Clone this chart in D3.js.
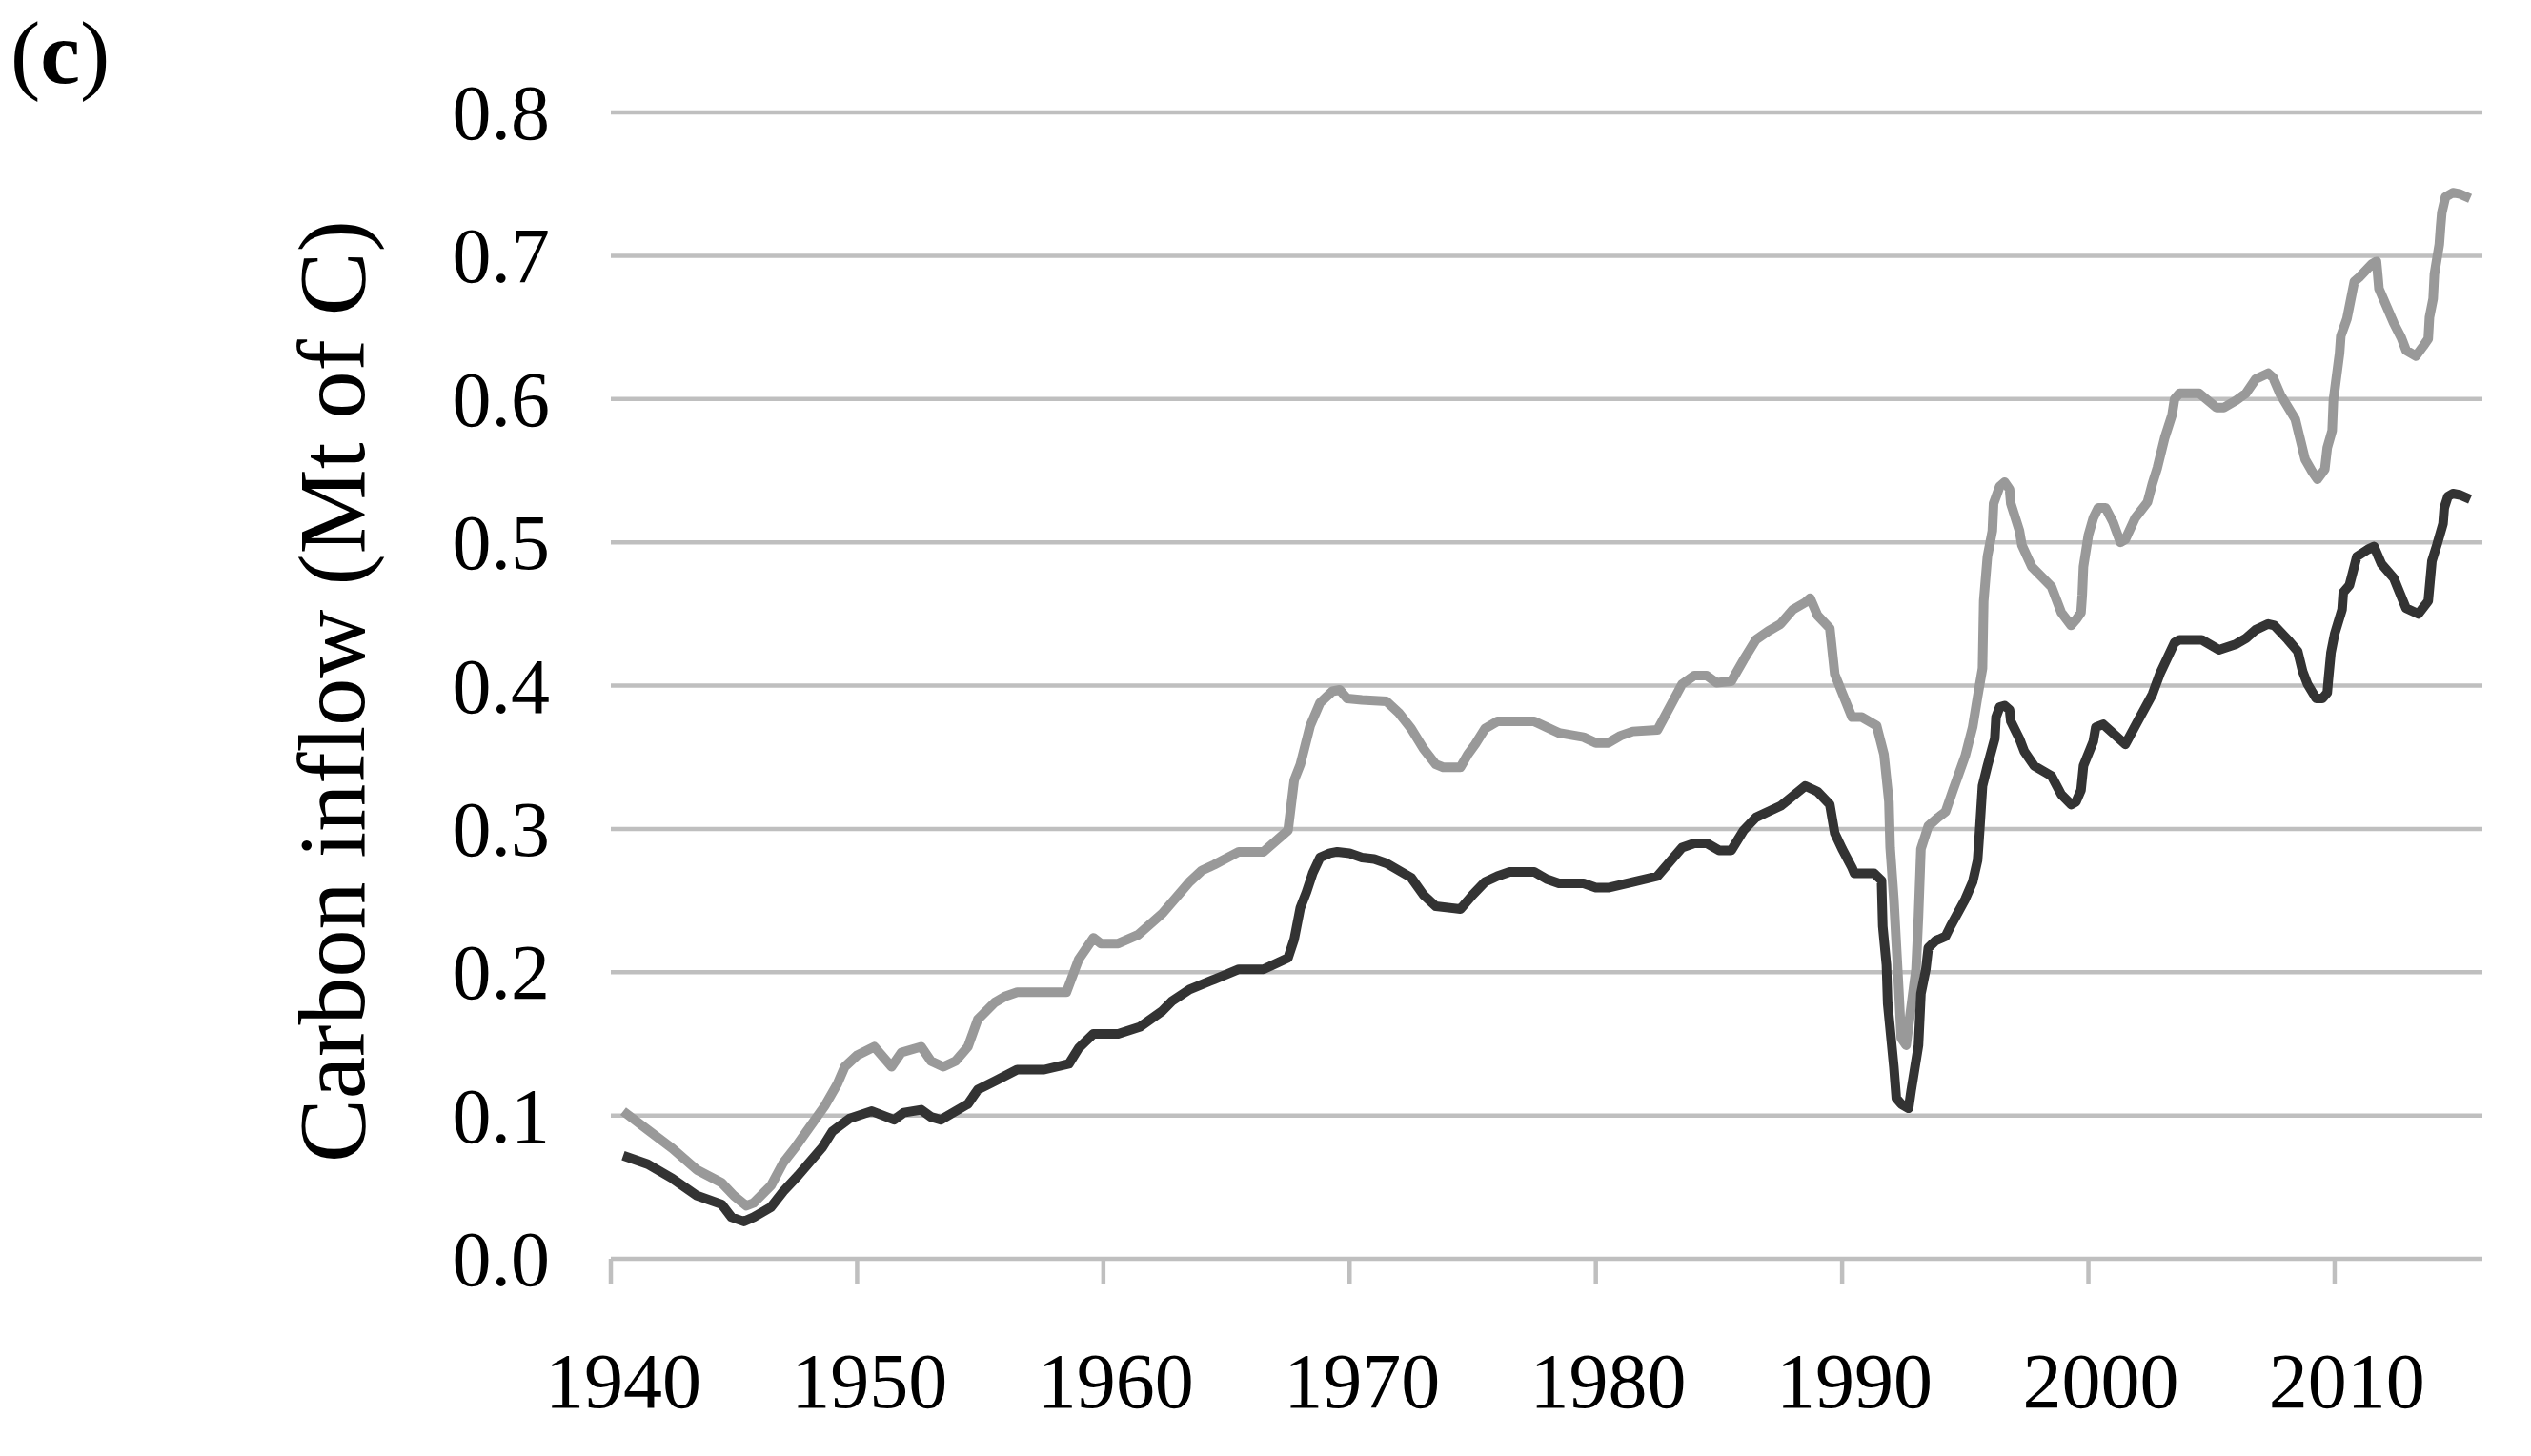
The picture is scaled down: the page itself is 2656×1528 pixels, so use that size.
<!DOCTYPE html>
<html lang="en">
<head>
  <meta charset="UTF-8">
  <title>Carbon inflow</title>
  <style>
    body { margin: 0; background: #fff; }
    .tick-label { font-family: "Liberation Serif", "Times New Roman", serif; font-size: 82px; fill: #000; }
    .axis-title { font-family: "Liberation Serif", "Times New Roman", serif; font-size: 100px; fill: #000; }
    .panel-label { font-family: "Liberation Serif", "Times New Roman", serif; font-size: 94px; fill: #000; }
  </style>
</head>
<body>
  <div id="chart-container"></div>

  <script src="https://d3js.org/d3.v7.min.js"></script>
  <script>
    // x = year of the point (drawn in the middle of its year slot), values in Mt of C
    const darkYears = [1940, 1941, 1942, 1943, 1944, 1944.4, 1944.9, 1945.3, 1946, 1946.5, 1947.1, 1948.1, 1948.5, 1949.2,
      1950.1, 1951, 1951.4, 1952.1, 1952.5, 1952.9, 1954, 1954.4, 1955.1, 1956, 1957.1, 1958.1, 1958.5, 1959.1,
      1960.1, 1961, 1961.9, 1962.3, 1963, 1964, 1965, 1966, 1967, 1967.25, 1967.5, 1967.75, 1968, 1968.3, 1968.7,
      1969, 1969.5, 1970, 1970.5, 1971, 1971.5, 1972, 1972.5, 1973, 1974, 1974.5, 1975, 1975.5, 1976, 1977, 1977.5,
      1978, 1979, 1979.5, 1980, 1981, 1982, 1982.5, 1983, 1983.5, 1984, 1984.5, 1985, 1985.5, 1986, 1986.5, 1987,
      1987.5, 1988, 1988.5, 1989, 1989.2, 1989.5, 1989.9, 1990, 1990.8, 1991.1, 1991.15, 1991.3, 1991.35, 1991.6,
      1991.7, 1991.9, 1992.2, 1992.3, 1992.6, 1992.7, 1992.9, 1993, 1993.3, 1993.7, 1993.9, 1994.5, 1994.8, 1995,
      1995.05, 1995.1, 1995.2, 1995.4, 1995.7, 1995.75, 1995.9, 1996.1, 1996.3, 1996.35, 1996.7, 1996.9, 1997.3,
      1998, 1998.4, 1998.8, 1999, 1999.2, 1999.3, 1999.7, 1999.8, 2000.1, 2001, 2001.5, 2002.1, 2002.4, 2003,
      2003.2, 2004.1, 2004.8, 2005.5, 2005.9, 2006.3, 2006.8, 2007.05, 2007.6, 2008, 2008.2, 2008.4, 2008.75, 2009,
      2009.2, 2009.25, 2009.35, 2009.5, 2009.8, 2009.85, 2010.1, 2010.4, 2010.85, 2011.1, 2011.4, 2011.9, 2012.4,
      2012.9, 2013.3, 2013.45, 2013.65, 2013.9, 2013.95, 2014.1, 2014.3, 2014.6, 2015];
    const darkValues = [0.072, 0.066, 0.056, 0.044, 0.038, 0.029, 0.026, 0.029, 0.036, 0.047, 0.058, 0.078, 0.089, 0.098,
      0.103, 0.097, 0.102, 0.104, 0.099, 0.097, 0.108, 0.118, 0.124, 0.132, 0.132, 0.136, 0.147, 0.157,
      0.157, 0.162, 0.173, 0.180, 0.188, 0.195, 0.202, 0.202, 0.210, 0.223, 0.245, 0.256, 0.269, 0.280, 0.283,
      0.284, 0.283, 0.280, 0.279, 0.276, 0.271, 0.266, 0.254, 0.246, 0.244, 0.254, 0.263, 0.267, 0.270, 0.270, 0.265,
      0.262, 0.262, 0.259, 0.259, 0.263, 0.267, 0.277, 0.287, 0.290, 0.290, 0.285, 0.285, 0.299, 0.308, 0.312, 0.316,
      0.323, 0.330, 0.326, 0.317, 0.297, 0.286, 0.273, 0.269, 0.269, 0.264, 0.232, 0.205, 0.178, 0.134,
      0.112, 0.108, 0.105, 0.117, 0.149, 0.185, 0.202, 0.217, 0.222, 0.225, 0.232, 0.251, 0.263, 0.278,
      0.290, 0.303, 0.330, 0.344, 0.363, 0.378, 0.385, 0.386, 0.383, 0.375, 0.363, 0.354, 0.344,
      0.337, 0.324, 0.317, 0.319, 0.327, 0.344, 0.361, 0.371, 0.373, 0.359, 0.375, 0.394, 0.408, 0.430,
      0.432, 0.432, 0.425, 0.429, 0.433, 0.439, 0.443, 0.442, 0.432, 0.424, 0.410, 0.401, 0.391, 0.391,
      0.395, 0.405, 0.423, 0.436, 0.453, 0.465, 0.470, 0.490, 0.495, 0.497, 0.485, 0.475, 0.454,
      0.450, 0.459, 0.487, 0.498, 0.513, 0.524, 0.532, 0.534, 0.533, 0.530];

    const greyYears = [1940, 1941, 1942, 1943, 1944, 1944.5, 1945, 1945.3, 1946, 1946.5, 1947, 1948.2, 1948.7, 1949,
      1949.5, 1950.2, 1950.9, 1951.3, 1952.1, 1952.5, 1953, 1953.5, 1954, 1954.4, 1955.1, 1955.5, 1956, 1958, 1958.5,
      1959.1, 1959.4, 1960.1, 1960.9, 1961.9, 1962.5, 1963, 1963.5, 1964, 1965, 1966, 1967, 1967.25, 1967.5, 1967.9,
      1968.3, 1968.8, 1969.1, 1969.4, 1970, 1971, 1971.5, 1972, 1972.5, 1973, 1973.3, 1974, 1974.3, 1974.6, 1975,
      1975.5, 1976, 1977, 1977.5, 1978, 1979, 1979.5, 1980, 1980.5, 1981, 1982, 1982.5, 1983, 1983.5, 1984, 1984.4,
      1985, 1985.5, 1986, 1986.5, 1987, 1987.5, 1988, 1988.2, 1988.5, 1989, 1989.2, 1989.5, 1989.9, 1990.3, 1990.9,
      1991.2, 1991.4, 1991.45, 1991.6, 1991.8, 1991.9, 1992.1, 1992.5, 1992.6, 1992.7, 1993, 1993.4, 1993.7, 1994,
      1994.5, 1994.8, 1995, 1995.2, 1995.25, 1995.4, 1995.6, 1995.65, 1995.9, 1996.1, 1996.3, 1996.35, 1996.7,
      1996.8, 1997.2, 1998, 1998.4, 1998.8, 1999, 1999.2, 1999.25, 1999.3, 1999.5, 1999.7, 1999.9, 2000.2, 2000.5,
      2000.8, 2001, 2001.4, 2001.9, 2002.1, 2002.3, 2002.6, 2002.9, 2003, 2003.2, 2004, 2004.7, 2005, 2005.5, 2005.9,
      2006.3, 2006.8, 2007, 2007.3, 2007.9, 2008.3, 2008.6, 2008.8, 2009.1, 2009.2, 2009.4, 2009.45, 2009.7, 2009.75,
      2010, 2010.3, 2010.5, 2011, 2011.2, 2011.25, 2011.3, 2011.9, 2012.2, 2012.4, 2012.8, 2013.1, 2013.3, 2013.35,
      2013.5, 2013.55, 2013.75, 2013.8, 2013.85, 2014, 2014.3, 2014.6, 2015];
    const greyValues = [0.103, 0.090, 0.077, 0.062, 0.053, 0.044, 0.037, 0.039, 0.051, 0.067, 0.078, 0.107, 0.122, 0.134,
      0.142, 0.148, 0.134, 0.144, 0.148, 0.138, 0.134, 0.138, 0.148, 0.167, 0.179, 0.183, 0.186, 0.186, 0.209,
      0.224, 0.220, 0.220, 0.226, 0.241, 0.253, 0.263, 0.271, 0.275, 0.284, 0.284, 0.299, 0.334, 0.345, 0.372,
      0.388, 0.396, 0.397, 0.391, 0.390, 0.389, 0.381, 0.370, 0.356, 0.345, 0.343, 0.343, 0.352, 0.359, 0.370,
      0.375, 0.375, 0.375, 0.371, 0.367, 0.364, 0.360, 0.360, 0.365, 0.368, 0.369, 0.385, 0.401, 0.407, 0.407, 0.402,
      0.403, 0.418, 0.432, 0.438, 0.443, 0.453, 0.458, 0.461, 0.449, 0.440, 0.408, 0.395, 0.378, 0.378, 0.372,
      0.352, 0.319, 0.287, 0.251, 0.188, 0.154, 0.149, 0.202, 0.239, 0.286, 0.302, 0.308, 0.312, 0.327,
      0.351, 0.371, 0.392, 0.412, 0.459, 0.490, 0.508, 0.527, 0.539, 0.542, 0.537, 0.527, 0.508,
      0.498, 0.483, 0.469, 0.451, 0.442, 0.446, 0.451, 0.463, 0.483, 0.505, 0.517, 0.524, 0.524, 0.514,
      0.500, 0.502, 0.517, 0.528, 0.541, 0.552, 0.573, 0.589, 0.600, 0.604, 0.604, 0.594, 0.594, 0.599, 0.604,
      0.614, 0.618, 0.615, 0.603, 0.586, 0.558, 0.549, 0.544, 0.551, 0.566, 0.578, 0.599, 0.632, 0.644,
      0.656, 0.682, 0.685, 0.694, 0.696, 0.687, 0.677, 0.653, 0.643, 0.634, 0.630, 0.637, 0.642, 0.657,
      0.670, 0.687, 0.708, 0.720, 0.730, 0.741, 0.744, 0.743, 0.740];

    const yTicks = [0, 0.1, 0.2, 0.3, 0.4, 0.5, 0.6, 0.7, 0.8];
    const xTicks = [1940, 1950, 1960, 1970, 1980, 1990, 2000, 2010];
    const yearRange = [1940, 2016];

    const width = 2656;
    const height = 1528;
    const margin = { top: 118, right: 51, bottom: 207, left: 641 };

    const svg = d3.select('#chart-container')
      .append('svg')
      .attr('width', width)
      .attr('height', height)
      .style('display', 'block');

    svg.append('rect').attr('width', width).attr('height', height).attr('fill', '#fff');

    const xScale = d3.scaleLinear()
      .domain(yearRange)
      .range([margin.left, width - margin.right]);

    const yScale = d3.scaleLinear()
      .domain([0, 0.8])
      .range([height - margin.bottom, margin.top]);

    // horizontal gridlines (the 0.0 one doubles as the x axis line)
    svg.append('g')
      .selectAll('line')
      .data(yTicks)
      .enter()
      .append('line')
      .attr('x1', xScale(yearRange[0]))
      .attr('x2', xScale(yearRange[1]))
      .attr('y1', d => yScale(d))
      .attr('y2', d => yScale(d))
      .attr('stroke', '#bfbfbf')
      .attr('stroke-width', 4.5);

    // tick marks under the x axis
    svg.append('g')
      .selectAll('line')
      .data(xTicks)
      .enter()
      .append('line')
      .attr('x1', d => xScale(d))
      .attr('x2', d => xScale(d))
      .attr('y1', yScale(0))
      .attr('y2', yScale(0) + 27)
      .attr('stroke', '#bfbfbf')
      .attr('stroke-width', 4.5);

    svg.append('g')
      .selectAll('text')
      .data(yTicks)
      .enter()
      .append('text')
      .attr('class', 'tick-label')
      .attr('x', 577)
      .attr('y', d => yScale(d) + 28)
      .attr('text-anchor', 'end')
      .text(d => d3.format('.1f')(d));

    svg.append('g')
      .selectAll('text')
      .data(xTicks)
      .enter()
      .append('text')
      .attr('class', 'tick-label')
      .attr('x', d => xScale(d + 0.5))
      .attr('y', 1477)
      .attr('text-anchor', 'middle')
      .text(d => d);

    const line = d3.line()
      .x(d => xScale(d[0] + 0.5))
      .y(d => yScale(d[1]));

    const series = [
      { name: 'grey', color: '#999999', pts: d3.zip(greyYears, greyValues) },
      { name: 'dark', color: '#333333', pts: d3.zip(darkYears, darkValues) }
    ];

    svg.append('g')
      .selectAll('path')
      .data(series)
      .enter()
      .append('path')
      .attr('d', d => line(d.pts))
      .attr('fill', 'none')
      .attr('stroke', d => d.color)
      .attr('stroke-width', 10)
      .attr('stroke-linejoin', 'round');

    // y axis title, its top end is cut off like in the original figure
    svg.append('clipPath')
      .attr('id', 'title-clip')
      .append('rect')
      .attr('x', 0)
      .attr('y', 230)
      .attr('width', 600)
      .attr('height', height - 230);

    svg.append('g')
      .attr('clip-path', 'url(#title-clip)')
      .append('text')
      .attr('class', 'axis-title')
      .attr('transform', 'rotate(-90)')
      .attr('x', -1220)
      .attr('y', 382)
      .attr('text-anchor', 'start')
      .text('Carbon inflow (Mt of C)');

    // panel letter: plain parentheses, bold c
    const panel = svg.append('text')
      .attr('class', 'panel-label')
      .attr('x', 11)
      .attr('y', 87);
    panel.append('tspan').text('(');
    panel.append('tspan').attr('font-weight', 'bold').text('c');
    panel.append('tspan').text(')');
  </script>
</body>
</html>
